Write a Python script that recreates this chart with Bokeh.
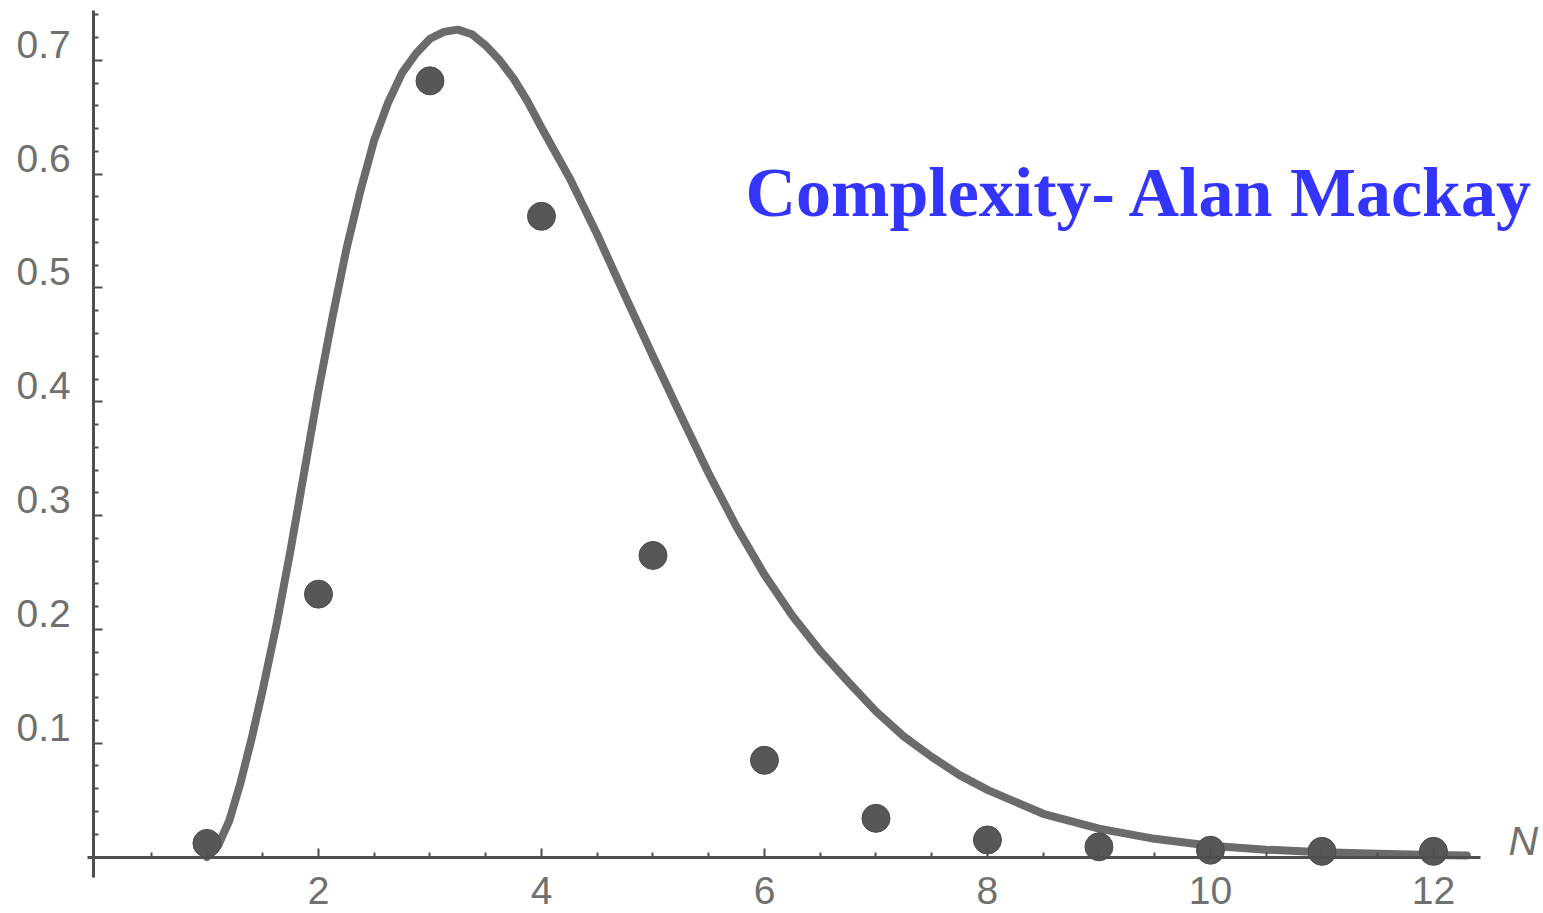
from bokeh.plotting import figure
from bokeh.models import (Range1d, LinearAxis, FixedTicker, Label,
                          CustomJSTickFormatter)
from bokeh.embed import file_html
from bokeh.resources import INLINE

# ---- data ----
n_values = [1, 2, 3, 4, 5, 6, 7, 8, 9, 10, 11, 12]
p_values = [0.012, 0.231, 0.682, 0.563, 0.265, 0.085, 0.034, 0.015,
            0.009, 0.006, 0.005, 0.005]

curve_x = [1.0, 1.1, 1.2, 1.3, 1.4, 1.5, 1.625, 1.75, 1.875, 2.0, 2.125,
           2.25, 2.375, 2.5, 2.625, 2.75, 2.875, 3.0, 3.125, 3.25, 3.375,
           3.5, 3.625, 3.75, 3.875, 4.0, 4.25, 4.5, 4.75, 5.0, 5.25, 5.5,
           5.75, 6.0, 6.25, 6.5, 6.75, 7.0, 7.25, 7.5, 7.75, 8.0, 8.5, 9.0,
           9.5, 10.0, 10.5, 11.0, 11.5, 12.0, 12.3]
curve_y = [0.0, 0.010, 0.032, 0.065, 0.104, 0.147, 0.205, 0.270, 0.340,
           0.410, 0.474, 0.534, 0.585, 0.630, 0.663, 0.689, 0.706, 0.719,
           0.725, 0.727, 0.723, 0.713, 0.700, 0.684, 0.664, 0.641, 0.597,
           0.547, 0.493, 0.440, 0.388, 0.337, 0.290, 0.248, 0.212, 0.181,
           0.154, 0.128, 0.106, 0.088, 0.072, 0.059, 0.038, 0.025, 0.016,
           0.010, 0.0065, 0.0042, 0.0028, 0.0018, 0.0014]

x_ticks = [2, 4, 6, 8, 10, 12]
x_tick_labels = ["2", "4", "6", "8", "10", "12"]
y_ticks = [0.1, 0.2, 0.3, 0.4, 0.5, 0.6, 0.7]
y_tick_labels = ["0.1", "0.2", "0.3", "0.4", "0.5", "0.6", "0.7"]
x_axis_name = "N"
title_text = "Complexity- Alan Mackay"

# ---- styling ----
W, H = 1543, 913
X0, X1 = -0.852, 12.987          # whole canvas is the frame
Y0, Y1 = -0.0496, 0.7526
XB = (-0.0717, 12.422)           # drawn extent of the x axis
YB = (-0.018, 0.7439)            # drawn extent of the y axis
YAX_AT = -0.015
LABEL_SHIFT = 0.0141             # y tick labels sit slightly above their ticks
AXIS_COLOR = "#4f4f4f"
LABEL_COLOR = "#707070"
TICK_FONT = "39px"

p = figure(width=W, height=H, output_backend="svg", toolbar_location=None,
           x_range=Range1d(X0, X1), y_range=Range1d(Y0, Y1),
           x_axis_type=None, y_axis_type=None, min_border=0)
p.outline_line_color = None
p.grid.visible = False
p.background_fill_color = "white"
p.border_fill_color = "white"
p.extra_y_ranges = {"lab": Range1d(Y0 - LABEL_SHIFT, Y1 - LABEL_SHIFT)}

minor_x = [v / 2 for v in range(1, 25) if v % 4 != 0]
minor_y = [round(v * 0.02, 2) for v in range(1, 38) if v % 5 != 0]

# x axis (ticks and labels) at y = 0
xax = LinearAxis(fixed_location=0, bounds=XB,
                 ticker=FixedTicker(ticks=x_ticks, minor_ticks=minor_x),
                 major_label_overrides={t: l for t, l in zip(x_ticks, x_tick_labels)},
                 axis_line_color=AXIS_COLOR, axis_line_width=3,
                 major_tick_line_color=AXIS_COLOR, major_tick_line_width=2,
                 minor_tick_line_color=AXIS_COLOR, minor_tick_line_width=2,
                 major_tick_in=9, major_tick_out=0,
                 minor_tick_in=5, minor_tick_out=0,
                 major_label_standoff=20,
                 major_label_text_font="Liberation Sans",
                 major_label_text_font_size=TICK_FONT,
                 major_label_text_color=LABEL_COLOR)
p.add_layout(xax, "below")

# y axis line and ticks at x = 0
yax = LinearAxis(fixed_location=YAX_AT, bounds=YB,
                 ticker=FixedTicker(ticks=y_ticks, minor_ticks=minor_y),
                 formatter=CustomJSTickFormatter(code="return ''"),
                 axis_line_color=AXIS_COLOR, axis_line_width=3,
                 major_tick_line_color=AXIS_COLOR, major_tick_line_width=2,
                 minor_tick_line_color=AXIS_COLOR, minor_tick_line_width=2,
                 major_tick_in=9, major_tick_out=0,
                 minor_tick_in=5, minor_tick_out=0)
p.add_layout(yax, "left")

# y tick labels (drawn slightly above the ticks, as in the scan)
ylab = LinearAxis(fixed_location=YAX_AT, y_range_name="lab",
                  ticker=FixedTicker(ticks=y_ticks, minor_ticks=[]),
                  major_label_overrides={t: l for t, l in zip(y_ticks, y_tick_labels)},
                  axis_line_color=None, major_tick_line_color=None,
                  minor_tick_line_color=None,
                  major_tick_in=0, major_tick_out=0,
                  major_label_standoff=23,
                  major_label_text_font="Liberation Sans",
                  major_label_text_font_size=TICK_FONT,
                  major_label_text_color=LABEL_COLOR)
p.add_layout(ylab, "left")

# fitted curve
p.line(curve_x, curve_y, line_color="#6b6b6b", line_width=8,
       line_join="round", line_cap="round")

# measured points
p.scatter(n_values, p_values, size=28, fill_color="#575757",
          line_color="#4a4a4a", line_width=1)

# axis name
p.add_layout(Label(x=12.673, y=0.0145, text=x_axis_name,
                   text_font="Liberation Sans", text_font_style="italic",
                   text_font_size="41px", text_color=LABEL_COLOR,
                   text_baseline="alphabetic", text_align="left"))

# overlay title
p.add_layout(Label(x=5.83, y=0.5835, text=title_text,
                   text_font="Liberation Serif", text_font_style="bold",
                   text_font_size="70px", text_color="#3434ff",
                   text_baseline="alphabetic", text_align="left"))

open("out.html", "w").write(file_html(p, INLINE))
